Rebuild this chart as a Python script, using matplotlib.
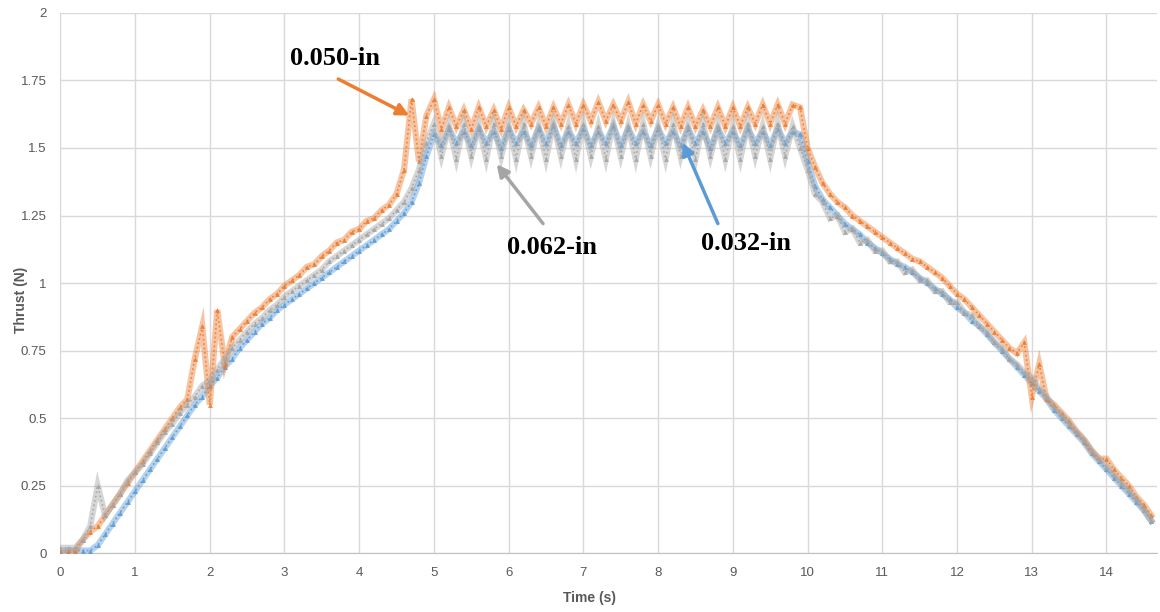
import matplotlib
matplotlib.use('Agg')
import matplotlib.pyplot as plt

# ── Data ─────────────────────────────────────────────────────────────────────
TIME = [
    0.0, 0.1, 0.2, 0.3, 0.4, 0.5, 0.6, 0.7, 0.8, 0.9,
    1.0, 1.1, 1.2, 1.3, 1.4, 1.5, 1.6, 1.7, 1.8, 1.9,
    2.0, 2.1, 2.2, 2.3, 2.4, 2.5, 2.6, 2.7, 2.8, 2.9,
    3.0, 3.1, 3.2, 3.3, 3.4, 3.5, 3.6, 3.7, 3.8, 3.9,
    4.0, 4.1, 4.2, 4.3, 4.4, 4.5, 4.6, 4.7, 4.8, 4.9,
    5.0, 5.1, 5.2, 5.3, 5.4, 5.5, 5.6, 5.7, 5.8, 5.9,
    6.0, 6.1, 6.2, 6.3, 6.4, 6.5, 6.6, 6.7, 6.8, 6.9,
    7.0, 7.1, 7.2, 7.3, 7.4, 7.5, 7.6, 7.7, 7.8, 7.9,
    8.0, 8.1, 8.2, 8.3, 8.4, 8.5, 8.6, 8.7, 8.8, 8.9,
    9.0, 9.1, 9.2, 9.3, 9.4, 9.5, 9.6, 9.7, 9.8, 9.9,
    10.0, 10.1, 10.2, 10.3, 10.4, 10.5, 10.6, 10.7, 10.8, 10.9,
    11.0, 11.1, 11.2, 11.3, 11.4, 11.5, 11.6, 11.7, 11.8, 11.9,
    12.0, 12.1, 12.2, 12.3, 12.4, 12.5, 12.6, 12.7, 12.8, 12.9,
    13.0, 13.1, 13.2, 13.3, 13.4, 13.5, 13.6, 13.7, 13.8, 13.9,
    14.0, 14.1, 14.2, 14.3, 14.4, 14.5, 14.6,
]

THRUST_032 = [
    0.01, 0.01, 0.01, 0.01, 0.01, 0.03, 0.07, 0.11, 0.15, 0.19,
    0.23, 0.27, 0.31, 0.35, 0.39, 0.43, 0.47, 0.51, 0.55, 0.58,
    0.62, 0.65, 0.69, 0.72, 0.76, 0.79, 0.82, 0.85, 0.87, 0.90,
    0.92, 0.94, 0.96, 0.98, 1.00, 1.02, 1.04, 1.06, 1.08, 1.10,
    1.12, 1.14, 1.16, 1.18, 1.20, 1.23, 1.26, 1.30, 1.37, 1.47,
    1.55, 1.51, 1.57, 1.52, 1.56, 1.51, 1.57, 1.52, 1.56, 1.50,
    1.57, 1.52, 1.56, 1.51, 1.57, 1.52, 1.58, 1.51, 1.56, 1.52,
    1.57, 1.51, 1.56, 1.52, 1.58, 1.51, 1.57, 1.52, 1.56, 1.51,
    1.57, 1.52, 1.56, 1.51, 1.57, 1.52, 1.56, 1.50, 1.57, 1.52,
    1.56, 1.51, 1.57, 1.52, 1.56, 1.51, 1.57, 1.52, 1.56, 1.55,
    1.45, 1.36, 1.31, 1.28, 1.25, 1.22, 1.20, 1.18, 1.15, 1.13,
    1.11, 1.09, 1.07, 1.06, 1.04, 1.02, 1.00, 0.98, 0.96, 0.94,
    0.91, 0.89, 0.86, 0.84, 0.81, 0.78, 0.75, 0.72, 0.69, 0.66,
    0.63, 0.60, 0.57, 0.53, 0.50, 0.47, 0.44, 0.41, 0.37, 0.34,
    0.31, 0.28, 0.25, 0.22, 0.19, 0.16, 0.12,
]

THRUST_050 = [
    0.00, 0.00, 0.01, 0.05, 0.08, 0.10, 0.14, 0.18, 0.22, 0.26,
    0.30, 0.34, 0.38, 0.42, 0.46, 0.50, 0.54, 0.57, 0.72, 0.84,
    0.55, 0.90, 0.70, 0.80, 0.83, 0.86, 0.89, 0.91, 0.94, 0.96,
    0.99, 1.01, 1.03, 1.06, 1.07, 1.10, 1.12, 1.15, 1.16, 1.19,
    1.20, 1.23, 1.24, 1.27, 1.29, 1.33, 1.42, 1.68, 1.45, 1.62,
    1.68, 1.57, 1.65, 1.58, 1.64, 1.57, 1.65, 1.58, 1.64, 1.57,
    1.65, 1.58, 1.64, 1.59, 1.65, 1.58, 1.65, 1.59, 1.66, 1.59,
    1.66, 1.60, 1.67, 1.60, 1.66, 1.60, 1.67, 1.59, 1.66, 1.60,
    1.66, 1.59, 1.65, 1.58, 1.65, 1.58, 1.64, 1.58, 1.65, 1.58,
    1.65, 1.58, 1.65, 1.59, 1.66, 1.59, 1.66, 1.59, 1.66, 1.65,
    1.50, 1.43, 1.37, 1.33, 1.30, 1.28, 1.25, 1.23, 1.21, 1.19,
    1.17, 1.15, 1.13, 1.11, 1.09, 1.08, 1.06, 1.04, 1.02, 0.99,
    0.96, 0.94, 0.91, 0.88, 0.85, 0.82, 0.79, 0.76, 0.74, 0.78,
    0.58, 0.70, 0.57, 0.55, 0.52, 0.49, 0.45, 0.42, 0.38, 0.35,
    0.35, 0.31, 0.28, 0.25, 0.21, 0.18, 0.14,
]

THRUST_062 = [
    0.02, 0.02, 0.02, 0.05, 0.10, 0.25, 0.14, 0.18, 0.22, 0.27,
    0.30, 0.33, 0.37, 0.41, 0.45, 0.48, 0.52, 0.55, 0.58, 0.62,
    0.64, 0.68, 0.72, 0.76, 0.79, 0.82, 0.85, 0.87, 0.90, 0.92,
    0.95, 0.97, 0.99, 1.01, 1.03, 1.05, 1.08, 1.10, 1.12, 1.14,
    1.16, 1.18, 1.20, 1.22, 1.24, 1.27, 1.30, 1.35, 1.42, 1.52,
    1.59, 1.47, 1.58, 1.46, 1.59, 1.47, 1.58, 1.46, 1.59, 1.47,
    1.58, 1.46, 1.59, 1.47, 1.58, 1.46, 1.59, 1.47, 1.58, 1.46,
    1.59, 1.47, 1.58, 1.46, 1.59, 1.47, 1.58, 1.46, 1.59, 1.47,
    1.58, 1.46, 1.59, 1.47, 1.58, 1.46, 1.59, 1.47, 1.58, 1.46,
    1.58, 1.46, 1.59, 1.47, 1.58, 1.46, 1.59, 1.47, 1.58, 1.50,
    1.42, 1.33, 1.30, 1.24, 1.25, 1.19, 1.20, 1.15, 1.16, 1.12,
    1.12, 1.08, 1.08, 1.04, 1.05, 1.01, 1.01, 0.97, 0.97, 0.93,
    0.93, 0.89, 0.88, 0.84, 0.82, 0.78, 0.76, 0.72, 0.70, 0.67,
    0.65, 0.61, 0.58, 0.54, 0.51, 0.48, 0.45, 0.42, 0.38, 0.35,
    0.32, 0.29, 0.26, 0.23, 0.20, 0.16, 0.12,
]

X_TICKS = list(range(0, 15))
Y_TICKS = [0, 0.25, 0.5, 0.75, 1, 1.25, 1.5, 1.75, 2]
Y_TICK_LABELS = ['0', '0.25', '0.5', '0.75', '1', '1.25', '1.5', '1.75', '2']

# ── Palette ──────────────────────────────────────────────────────────────────
BLUE   = '#5b9bd5'
ORANGE = '#ed7d31'
GREY   = '#a5a5a5'
GRID   = '#d9d9d9'
TEXT   = '#595959'

plt.rcParams['font.family'] = ['Liberation Sans Narrow', 'Liberation Sans', 'DejaVu Sans']

fig = plt.figure(figsize=(11.6, 6.12), dpi=100)
ax = fig.add_axes([0.052, 0.096, 0.945, 0.883])

# thick faint band + thin dotted core, to mimic the dense noisy traces
series = [(THRUST_032, BLUE), (THRUST_050, ORANGE), (THRUST_062, GREY)]
for vals, col in series:
    ax.plot(TIME, vals, color=col, lw=4.5, alpha=0.45, solid_joinstyle='miter',
            zorder=3)
    ax.plot(TIME, vals, color=col, lw=1.2, ls=':', alpha=0.9,
            marker='^', ms=3.5, mew=0, zorder=3)

ax.set_xlim(0, 14.67)
ax.set_ylim(0, 2)
ax.set_xticks(X_TICKS)
ax.set_yticks(Y_TICKS)
ax.set_yticklabels(Y_TICK_LABELS)
ax.grid(True, color=GRID, lw=1)
ax.set_axisbelow(True)
for s in ['top', 'right', 'left']:
    ax.spines[s].set_visible(False)
ax.spines['bottom'].set_color('#bfbfbf')
ax.tick_params(length=0, labelsize=9.5, colors=TEXT, pad=10)

fig.text(0.508, 0.012, 'Time (s)', ha='center', va='bottom',
         fontsize=10, color=TEXT, fontweight='bold')
fig.text(0.018, 0.51, 'Thrust (N)', ha='center', va='center', rotation=90,
         fontsize=10, color=TEXT, fontweight='bold')

# ── Annotations ──────────────────────────────────────────────────────────────
def pointer(xy, xytext, col):
    ax.annotate('', xy=xy, xytext=xytext,
                arrowprops=dict(arrowstyle='-|>', color=col, lw=2.5,
                                mutation_scale=18, shrinkA=0, shrinkB=0),
                zorder=6)

pointer((4.67, 1.62), (3.72, 1.755), ORANGE)
pointer((5.84, 1.44), (6.46, 1.22), GREY)
pointer((8.33, 1.52), (8.80, 1.22), BLUE)

for txt, x, y in [('0.050-in', 3.67, 1.83), ('0.062-in', 6.58, 1.13),
                  ('0.032-in', 9.17, 1.145)]:
    ax.text(x, y, txt, ha='center', va='center', fontsize=19,
            fontweight='bold', family='Liberation Serif', color='black',
            zorder=7)

fig.savefig('out.png', dpi=100)
